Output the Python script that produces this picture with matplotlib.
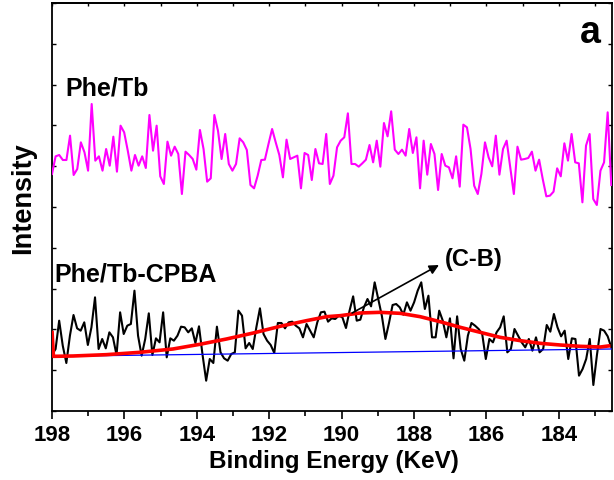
import numpy as np
import matplotlib
matplotlib.use('Agg')
import matplotlib.pyplot as plt

# ---------------- data ----------------
energy_start, energy_end = 198.0, 182.55

phe_tb = [711, 764, 768, 753, 753, 826, 708, 726, 806, 776,
          721, 921, 751, 764, 721, 786, 736, 823, 718, 856,
          836, 781, 721, 768, 736, 764, 729, 888, 781, 856,
          704, 681, 808, 766, 793, 771, 651, 778, 768, 756,
          724, 843, 786, 688, 698, 888, 841, 756, 831, 741,
          721, 741, 818, 806, 783, 678, 668, 706, 753, 754,
          801, 846, 806, 768, 701, 814, 756, 761, 766, 668,
          774, 768, 693, 786, 743, 741, 831, 681, 706, 791,
          811, 821, 893, 741, 741, 733, 743, 754, 798, 746,
          811, 733, 864, 824, 899, 784, 771, 784, 766, 846,
          774, 821, 668, 811, 709, 801, 771, 663, 771, 736,
          731, 698, 764, 673, 859, 851, 786, 676, 651, 711,
          806, 761, 734, 826, 709, 786, 811, 731, 651, 793,
          754, 756, 759, 778, 721, 754, 696, 644, 646, 658,
          728, 704, 803, 751, 831, 746, 743, 626, 796, 831,
          636, 618, 721, 746, 896, 678]

phe_tb_cpba = [168, 186, 271, 196, 144, 226, 288, 248, 241, 266,
               198, 251, 341, 186, 216, 188, 236, 221, 168, 296,
               231, 256, 261, 361, 226, 166, 216, 293, 168, 218,
               206, 296, 161, 218, 211, 226, 253, 251, 236, 248,
               204, 254, 168, 91, 156, 144, 253, 176, 158, 151,
               171, 176, 301, 286, 188, 204, 186, 251, 308, 231,
               211, 198, 174, 264, 264, 248, 266, 268, 256, 248,
               221, 261, 241, 221, 266, 296, 298, 268, 278,
               276, 286, 281, 249, 301, 344, 271, 274, 311, 336,
               314, 386, 336, 286, 216, 264, 318, 321, 311, 289,
               326, 301, 326, 361, 386, 306, 346, 221, 221, 301,
               271, 221, 278, 158, 284, 186, 151, 226, 264, 256,
               246, 231, 156, 216, 206, 236, 251, 284, 176, 186,
               246, 226, 206, 191, 216, 181, 221, 176, 186, 258,
               238, 291, 251, 224, 241, 156, 218, 216, 106, 126,
               156, 216, 78, 168, 246, 241, 224, 191]

fit_energy = [198.0, 197.96, 197.42, 196.50, 195.58, 194.66, 193.92, 193.18,
              192.44, 191.70, 190.97, 190.41, 190.04, 189.49, 188.94, 188.38,
              187.83, 187.28, 186.72, 186.17, 185.62, 185.06, 184.51, 183.96,
              183.40, 182.85, 182.57]
fit_intensity = [241, 164, 165, 169, 176, 186, 200, 216,
                 234, 254, 271, 283, 286, 294, 296, 293,
                 283, 268, 251, 236, 221, 211, 203, 198,
                 194, 192, 196]

baseline_energy = [198.0, 182.55]
baseline_intensity = [164, 186]

major_ticks = [198, 196, 194, 192, 190, 188, 186, 184]
minor_ticks = [197, 195, 193, 191, 189, 187, 185, 183]

# ---------------- plot ----------------
plt.rcParams['font.family'] = ['Liberation Sans', 'DejaVu Sans']

fig = plt.figure(figsize=(6.14, 4.81), dpi=100)
ax = fig.add_axes([52 / 614, 69 / 481, 560 / 614, 408 / 481])

x1 = np.linspace(energy_start, energy_end, len(phe_tb))
x2 = np.linspace(energy_start, energy_end, len(phe_tb_cpba))

ax.plot(x1, phe_tb, color='#ff00ff', lw=1.5, zorder=3)
ax.plot(x2, phe_tb_cpba, color='black', lw=1.5, zorder=3)
ax.plot(baseline_energy, baseline_intensity, color='#0000ff', lw=0.9, zorder=4)
ax.plot(fit_energy, fit_intensity, color='#ff0000', lw=2.6, zorder=5,
        solid_capstyle='butt')

ax.set_xlim(198, 182.53)
ax.set_ylim(0, 1224)

ax.set_xticks(major_ticks)
ax.set_xticks(minor_ticks, minor=True)
ax.set_xticklabels([str(t) for t in major_ticks])
ax.tick_params(axis='x', which='major', direction='out', length=6, width=1.2,
               pad=3.5, labelsize=16)
ax.tick_params(axis='x', which='minor', direction='out', length=3.5, width=1.2)
for lbl in ax.get_xticklabels():
    lbl.set_fontweight('bold')

top = ax.secondary_xaxis('top')
top.set_xticks(major_ticks + minor_ticks)
top.tick_params(direction='in', length=2.5, width=1.0, labeltop=False)
top.spines['top'].set_linewidth(1.3)

ax.set_yticks(np.arange(0, 1225, 122.4))
ax.tick_params(axis='y', which='major', direction='in', left=True, right=True,
               length=3, width=1.0, labelleft=False)

for s in ax.spines.values():
    s.set_linewidth(1.3)

ax.set_xlabel('Binding Energy (KeV)', fontsize=17.5, fontweight='bold', va='center')
ax.xaxis.set_label_coords(0.5036, -0.1225)
ax.set_ylabel('Intensity', fontsize=19.5, fontweight='bold', va='center')
ax.yaxis.set_label_coords(-0.052, 0.525)

ax.text(197.63, 969, 'Phe/Tb', fontsize=18, fontweight='bold', ha='left', va='center')
ax.text(197.93, 411, 'Phe/Tb-CPBA', fontsize=18, fontweight='bold', ha='left', va='center')
ax.text(186.34, 456, '(C-B)', fontsize=17, fontweight='bold', ha='center', va='center')
ax.annotate('', xy=(187.31, 438), xytext=(189.71, 294),
            arrowprops=dict(arrowstyle='-|>', color='black', lw=1.2,
                            mutation_scale=14, shrinkA=0, shrinkB=0), zorder=6)
ax.text(0.962, 0.93, 'a', transform=ax.transAxes, fontsize=27, fontweight='bold',
        ha='center', va='center')

fig.savefig('out.png', dpi=100)
